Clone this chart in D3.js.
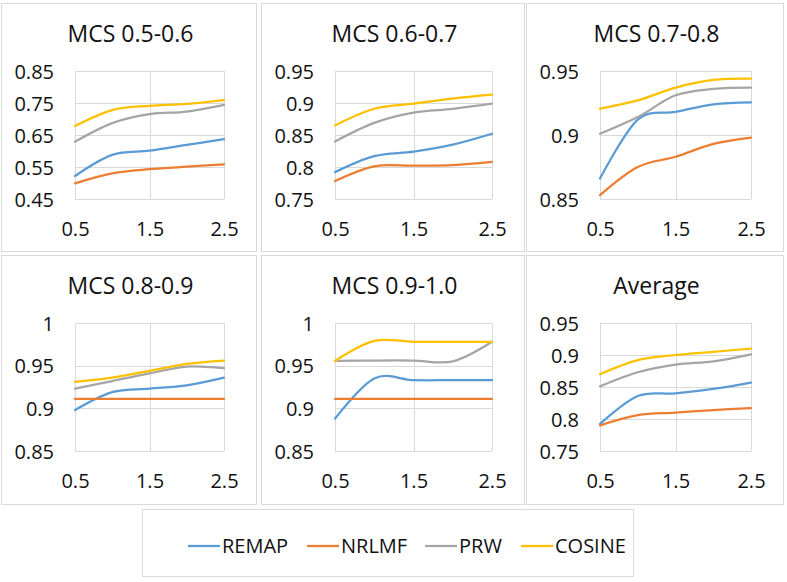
<!DOCTYPE html>
<html>
<head>
<meta charset="utf-8">
<script src="https://cdn.jsdelivr.net/npm/d3@7"></script>
<style>
  html, body { margin: 0; padding: 0; background: #fff; }
  svg { display: block; }
  text { font-family: "Open Sans", sans-serif; fill: #111; }
</style>
</head>
<body>
<svg id="chart" width="787" height="582"></svg>
<script>
// ---------- data ----------
const xValues = [0.5, 1, 1.5, 2, 2.5];
const xTicks = [0.5, 1.5, 2.5];
const seriesNames = ["REMAP", "NRLMF", "PRW", "COSINE"];
const seriesColors = ["#5B9BD5", "#ED7D31", "#A5A5A5", "#FFC000"];
const panelTitles = ["MCS 0.5-0.6", "MCS 0.6-0.7", "MCS 0.7-0.8", "MCS 0.8-0.9", "MCS 0.9-1.0", "Average"];
const panelYTicks = [
  [0.45, 0.55, 0.65, 0.75, 0.85],
  [0.75, 0.8, 0.85, 0.9, 0.95],
  [0.85, 0.9, 0.95],
  [0.85, 0.9, 0.95, 1],
  [0.85, 0.9, 0.95, 1],
  [0.75, 0.8, 0.85, 0.9, 0.95]
];
// one row per panel, values at xValues
const remap = [
  [0.522, 0.588, 0.601, 0.619, 0.637],
  [0.792, 0.817, 0.824, 0.835, 0.852],
  [0.866, 0.912, 0.918, 0.924, 0.9255],
  [0.898, 0.919, 0.923, 0.927, 0.936],
  [0.888, 0.935, 0.933, 0.933, 0.933],
  [0.7925, 0.836, 0.840, 0.847, 0.857]
];
const nrlmf = [
  [0.499, 0.530, 0.543, 0.551, 0.558],
  [0.778, 0.801, 0.802, 0.803, 0.808],
  [0.853, 0.875, 0.883, 0.893, 0.898],
  [0.911, 0.911, 0.911, 0.911, 0.911],
  [0.911, 0.911, 0.911, 0.911, 0.911],
  [0.790, 0.806, 0.810, 0.814, 0.817]
];
const prw = [
  [0.629, 0.687, 0.715, 0.723, 0.744],
  [0.840, 0.869, 0.885, 0.891, 0.899],
  [0.901, 0.914, 0.931, 0.936, 0.937],
  [0.923, 0.932, 0.941, 0.949, 0.947],
  [0.9555, 0.956, 0.956, 0.955, 0.978],
  [0.851, 0.873, 0.885, 0.890, 0.901]
];
const cosine = [
  [0.678, 0.728, 0.741, 0.747, 0.759],
  [0.865, 0.891, 0.899, 0.907, 0.913],
  [0.9206, 0.927, 0.937, 0.943, 0.944],
  [0.931, 0.936, 0.944, 0.952, 0.956],
  [0.9555, 0.979, 0.978, 0.978, 0.978],
  [0.870, 0.892, 0.900, 0.905, 0.910]
];
const allSeries = [remap, nrlmf, prw, cosine];

// ---------- layout ----------
const colEdges = [[1, 256], [261, 524], [526, 783]];
const rowEdges = [[3, 251], [255, 504]];
const gridColor = "#D9D9D9";

const svg = d3.select("#chart");
const fmt = d => String(+d.toFixed(2));

panelTitles.forEach((title, i) => {
  const col = i % 3, row = Math.floor(i / 3);
  const [px0, px1] = colEdges[col];
  const [py0, py1] = rowEdges[row];
  const g = svg.append("g");

  g.append("rect")
    .attr("x", px0 + 0.5).attr("y", py0 + 0.5)
    .attr("width", px1 - px0).attr("height", py1 - py0)
    .attr("fill", "#fff").attr("stroke", gridColor).attr("stroke-width", 1);

  // measure widest tick label
  const probe = g.append("text").style("font-size", "20px");
  let labelW = 0;
  panelYTicks[i].forEach(t => {
    probe.text(fmt(t));
    labelW = Math.max(labelW, probe.node().getComputedTextLength());
  });
  probe.remove();

  const plotLeft = Math.round(px0 + 12 + labelW + 22);
  const plotRight = px1 - 32;
  const plotTop = py0 + 68;
  const plotBottom = py0 + 196;

  const yT = panelYTicks[i];
  const x = d3.scaleLinear().domain([0.5, 2.5]).range([plotLeft, plotRight]);
  const y = d3.scaleLinear().domain([yT[0], yT[yT.length - 1]]).range([plotBottom, plotTop]);

  g.append("text")
    .attr("x", (px0 + px1) / 2 + 2).attr("y", py0 + 30)
    .attr("text-anchor", "middle").attr("dominant-baseline", "central")
    .style("font-size", "23px").text(title);

  const yAxis = g.append("g")
    .attr("transform", `translate(${plotLeft},0)`)
    .call(d3.axisLeft(y).tickValues(yT).tickSize(-(plotRight - plotLeft)).tickPadding(21).tickFormat(fmt));
  yAxis.select(".domain").remove();
  yAxis.selectAll("line").attr("stroke", gridColor).attr("shape-rendering", "crispEdges");
  yAxis.selectAll("text").style("font-size", "20px").attr("fill", "#111").attr("dy", "0.35em");

  const xAxis = g.append("g")
    .attr("transform", `translate(0,${plotBottom})`)
    .call(d3.axisBottom(x).tickValues(xTicks).tickSize(-(plotBottom - plotTop)).tickFormat(fmt));
  xAxis.select(".domain").remove();
  xAxis.selectAll("line").attr("stroke", gridColor).attr("shape-rendering", "crispEdges");
  xAxis.selectAll("text").style("font-size", "20px").attr("fill", "#111")
    .attr("y", 30).attr("dy", "0.35em");

  const line = d3.line()
    .x((d, k) => x(xValues[k]))
    .y(d => y(d))
    .curve(d3.curveCatmullRom.alpha(0));

  allSeries.forEach((s, si) => {
    g.append("path")
      .datum(s[i])
      .attr("d", line)
      .attr("fill", "none")
      .attr("stroke", seriesColors[si])
      .attr("stroke-width", 2.25)
      .attr("stroke-linecap", "round")
      .attr("stroke-linejoin", "round");
  });
});

// ---------- legend ----------
const legend = svg.append("g");
legend.append("rect")
  .attr("x", 142.5).attr("y", 509.5).attr("width", 491).attr("height", 67)
  .attr("fill", "#fff").attr("stroke", gridColor);
const legendX = [188, 307, 425, 521];
seriesNames.forEach((name, i) => {
  legend.append("line")
    .attr("x1", legendX[i]).attr("x2", legendX[i] + 32)
    .attr("y1", 546).attr("y2", 546)
    .attr("stroke", seriesColors[i]).attr("stroke-width", 2.25);
  legend.append("text")
    .attr("x", legendX[i] + 34).attr("y", 546).attr("dy", "0.35em")
    .style("font-size", "20px").text(name);
});
</script>
</body>
</html>
